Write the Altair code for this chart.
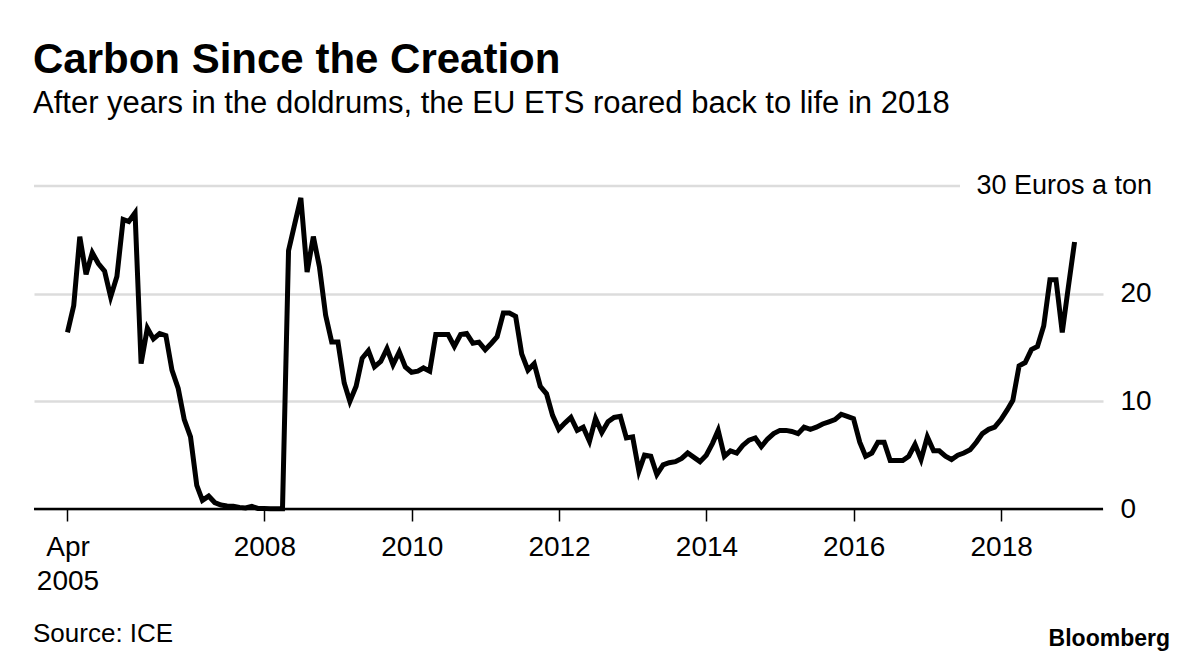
import altair as alt
import pandas as pd

# Monthly EU ETS carbon price (Euros a ton), month-end, Apr 2005 .. Dec 2018
p2005 = [16.4, 18.9, 25.3, 21.8, 23.8, 22.8, 22.1, 19.7, 21.6]
p2006 = [26.9, 26.7, 27.5, 13.5, 16.8, 15.8, 16.3, 16.1, 12.9, 11.2, 8.3, 6.7]
p2007 = [2.2, 0.8, 1.2, 0.6, 0.37, 0.28, 0.25, 0.15, 0.1, 0.25, 0.05, 0.04]
p2008 = [0.03, 0.03, 0.03, 24.0, 26.5, 28.9, 22.0, 25.3, 22.5, 18.0, 15.5, 15.5]
p2009 = [11.7, 10.0, 11.4, 14.0, 14.7, 13.2, 13.7, 14.9, 13.4, 14.6, 13.2, 12.7]
p2010 = [12.8, 13.1, 12.8, 16.2, 16.2, 16.2, 15.1, 16.2, 16.3, 15.4, 15.5, 14.8]
p2011 = [15.4, 16.0, 18.2, 18.2, 17.9, 14.4, 12.9, 13.5, 11.4, 10.7, 8.7, 7.4]
p2012 = [8.0, 8.5, 7.3, 7.6, 6.3, 8.4, 7.1, 8.1, 8.5, 8.6, 6.6, 6.7]
p2013 = [3.5, 5.0, 4.9, 3.2, 4.1, 4.3, 4.4, 4.7, 5.2, 4.8, 4.4, 5.0]
p2014 = [6.1, 7.3, 4.9, 5.4, 5.2, 5.9, 6.4, 6.6, 5.8, 6.5, 7.0, 7.3]
p2015 = [7.3, 7.2, 7.0, 7.6, 7.4, 7.6, 7.9, 8.1, 8.3, 8.8, 8.6, 8.4]
p2016 = [6.2, 4.9, 5.2, 6.2, 6.2, 4.5, 4.5, 4.5, 4.9, 6.0, 4.6, 6.7]
p2017 = [5.4, 5.4, 4.9, 4.6, 5.0, 5.2, 5.5, 6.2, 7.0, 7.4, 7.6, 8.3]
p2018 = [9.2, 10.1, 13.3, 13.6, 14.8, 15.1, 17.0, 21.3, 21.3, 16.4, 20.6, 24.8]

prices = (p2005 + p2006 + p2007 + p2008 + p2009 + p2010 + p2011 + p2012
          + p2013 + p2014 + p2015 + p2016 + p2017 + p2018)
months = pd.date_range("2005-04-01", periods=len(prices), freq="MS") + pd.offsets.MonthEnd(0)
df = pd.DataFrame({"date": months.strftime("%Y-%m-%dT00:00:00"), "price": prices})

x_tick_dates = [(2005, 4, 30), (2008, 1, 1), (2010, 1, 1), (2012, 1, 1),
                (2014, 1, 1), (2016, 1, 1), (2018, 1, 1)]
y_ticks = [0, 10, 20]
top_label = "30 Euros a ton"
title_text = "Carbon Since the Creation"
subtitle_text = "After years in the doldrums, the EU ETS roared back to life in 2018"
source_text = "Source: ICE"
brand_text = "Bloomberg"

FONT = "Liberation Sans"
W, H = 1069, 323

x_scale = alt.Scale(domain=[alt.DateTime(year=2004, month=11, date=15),
                            alt.DateTime(year=2019, month=5, date=21)])
y_scale = alt.Scale(domain=[0, 30])

x_axis = alt.Axis(
    values=[alt.DateTime(year=y, month=m, date=d) for (y, m, d) in x_tick_dates],
    labelExpr="year(datum.value) == 2005 ? ['Apr', '2005'] : timeFormat(datum.value, '%Y')",
    domain=False, grid=False, ticks=True, tickSize=12, tickColor="black", tickWidth=1.5,
    labelFont=FONT, labelFontSize=28, labelColor="black", labelPadding=12,
    labelLineHeight=34, labelAlign="center", labelFlush=False, labelOverlap=False,
    title=None,
)
y_axis = alt.Axis(
    orient="right", values=y_ticks, grid=True, gridColor="#dcdcdc", gridWidth=2.5,
    domain=False, ticks=False, labelAlign="left", labelPadding=17,
    labelFont=FONT, labelFontSize=28, labelColor="black", title=None,
)

base = alt.Chart(df)

line = base.mark_line(color="black", strokeWidth=5, strokeJoin="miter").encode(
    x=alt.X("date:T", scale=x_scale, axis=x_axis),
    y=alt.Y("price:Q", scale=y_scale, axis=y_axis),
)

one = alt.Data(values=[{}])

grid30 = alt.Chart(one).mark_rule(color="#dcdcdc", strokeWidth=2.5).encode(
    y=alt.datum(30), x=alt.value(0), x2=alt.value(926)
)
zero_line = alt.Chart(one).mark_rule(color="black", strokeWidth=2.5).encode(
    y=alt.datum(0), x=alt.value(0), x2=alt.value(W)
)
top_text = alt.Chart(one).mark_text(
    text=top_label, font=FONT, fontSize=27, color="black", align="right", baseline="middle"
).encode(x=alt.value(1118), y=alt.datum(30))

title = alt.Chart(one).mark_text(
    text=title_text, font=FONT, fontSize=42, fontWeight="bold", color="black",
    align="left", baseline="alphabetic"
).encode(x=alt.value(-1), y=alt.value(-113))
subtitle = alt.Chart(one).mark_text(
    text=subtitle_text, font=FONT, fontSize=31, color="black",
    align="left", baseline="alphabetic"
).encode(x=alt.value(-1), y=alt.value(-73))
source = alt.Chart(one).mark_text(
    text=source_text, font=FONT, fontSize=26, color="black",
    align="left", baseline="alphabetic"
).encode(x=alt.value(-1), y=alt.value(456))
brand = alt.Chart(one).mark_text(
    text=brand_text, font=FONT, fontSize=23, fontWeight="bold", color="black",
    align="right", baseline="alphabetic"
).encode(x=alt.value(1136), y=alt.value(460))

chart = alt.layer(
    grid30, zero_line, line, top_text, title, subtitle, source, brand
).properties(
    width=W, height=H,
    padding={"left": 34, "top": 186, "right": 97, "bottom": 155},
    autosize=alt.AutoSizeParams(type="none"),
    background="white",
).configure_view(stroke=None)

chart.save("out.html", embed_options={"renderer": "svg", "actions": False})
